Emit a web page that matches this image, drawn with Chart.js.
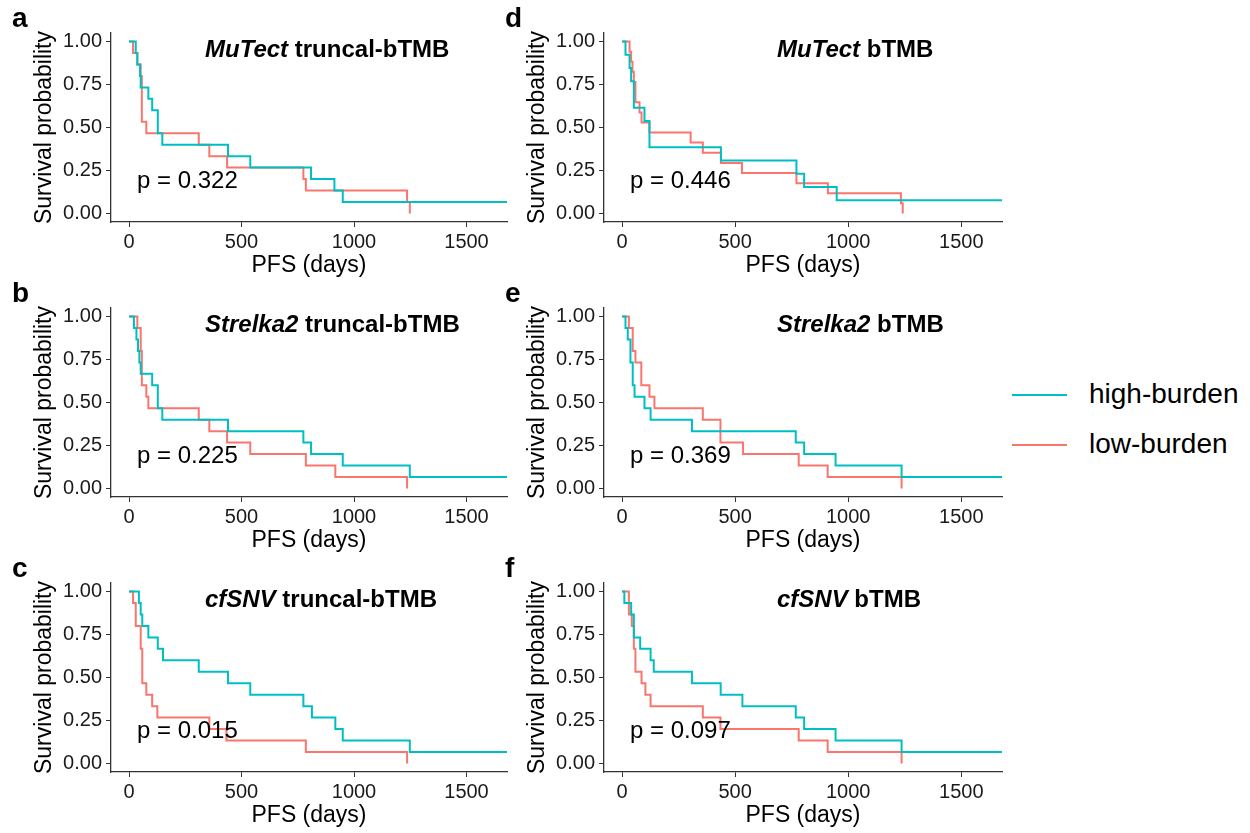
<!DOCTYPE html>
<html>
<head>
<meta charset="utf-8">
<script src="https://cdn.jsdelivr.net/npm/chart.js@4"></script>
<style>
    body { margin: 0; background: #fff; width: 1250px; height: 833px; position: relative; overflow: hidden; font-family: "Liberation Sans", Arial, sans-serif; color: #000; }
    canvas { position: absolute; }
    .letra { position: absolute; font-weight: bold; font-size: 28px; line-height: 1; transform: translateY(-50%); }
    .titulo { position: absolute; font-weight: bold; font-size: 24px; line-height: 1; transform: translateY(-50%); white-space: nowrap; }
    .pvalor { position: absolute; font-size: 24px; line-height: 1; transform: translateY(-50%); white-space: nowrap; }
    .leg-item { position: absolute; left: 1012px; font-size: 28px; line-height: 1; }
    .leg-linha { position: absolute; left: 0; width: 55px; height: 2px; }
    .leg-texto { position: absolute; left: 77px; transform: translateY(-50%); white-space: nowrap; }
</style>
</head>
<body>

<canvas id="painel-a" width="491" height="263"></canvas>
<canvas id="painel-b" width="491" height="263"></canvas>
<canvas id="painel-c" width="491" height="263"></canvas>
<canvas id="painel-d" width="493" height="263"></canvas>
<canvas id="painel-e" width="493" height="263"></canvas>
<canvas id="painel-f" width="493" height="263"></canvas>

<div class="leg-item" style="top:394px"><div class="leg-linha" style="background:#00BFC4"></div><div class="leg-texto">high-burden</div></div>
<div class="leg-item" style="top:444px"><div class="leg-linha" style="background:#F8766D"></div><div class="leg-texto">low-burden</div></div>

<script>
const aHighDays = [0, 30, 37, 49, 52, 86, 103, 128, 148, 440, 539, 809, 913, 950, 1680];
const aHighSurv = [1, 0.933, 0.867, 0.8, 0.733, 0.667, 0.6, 0.467, 0.4, 0.333, 0.267, 0.2, 0.133, 0.067, 0.067];
const aLowDays = [0, 18, 37, 52, 57, 77, 310, 357, 436, 775, 786, 1236, 1248];
const aLowSurv = [1, 0.933, 0.867, 0.8, 0.533, 0.467, 0.4, 0.333, 0.267, 0.2, 0.133, 0.067, 0];

const bHighDays = [0, 22, 33, 40, 46, 52, 103, 128, 148, 440, 775, 809, 950, 1248, 1680];
const bHighSurv = [1, 0.933, 0.867, 0.8, 0.733, 0.667, 0.6, 0.467, 0.4, 0.333, 0.267, 0.2, 0.133, 0.067, 0.067];
const bLowDays = [0, 37, 52, 57, 77, 86, 310, 357, 436, 539, 786, 917, 1236];
const bLowSurv = [1, 0.933, 0.8, 0.6, 0.533, 0.467, 0.4, 0.333, 0.267, 0.2, 0.133, 0.067, 0];

const cHighDays = [0, 44, 52, 59, 86, 128, 151, 310, 440, 539, 775, 813, 917, 950, 1248, 1680];
const cHighSurv = [1, 0.933, 0.867, 0.8, 0.733, 0.667, 0.6, 0.533, 0.467, 0.4, 0.333, 0.267, 0.2, 0.133, 0.067, 0.067];
const cLowDays = [0, 18, 30, 52, 59, 77, 103, 126, 357, 433, 786, 1236];
const cLowSurv = [1, 0.933, 0.8, 0.667, 0.467, 0.4, 0.333, 0.267, 0.2, 0.133, 0.067, 0];

const dHighDays = [0, 15, 33, 40, 52, 99, 121, 437, 771, 805, 949, 1680];
const dHighSurv = [1, 0.923, 0.846, 0.769, 0.615, 0.538, 0.385, 0.308, 0.231, 0.154, 0.077, 0.077];
const dLowDays = [0, 33, 40, 46, 52, 59, 77, 86, 121, 303, 357, 437, 530, 771, 910, 1233, 1241];
const dLowSurv = [1, 0.941, 0.882, 0.824, 0.765, 0.647, 0.588, 0.529, 0.471, 0.412, 0.353, 0.294, 0.235, 0.176, 0.118, 0.059, 0];

const eHighDays = [0, 15, 25, 37, 47, 55, 99, 126, 309, 768, 805, 944, 1236, 1680];
const eHighSurv = [1, 0.933, 0.867, 0.733, 0.6, 0.533, 0.467, 0.4, 0.333, 0.267, 0.2, 0.133, 0.067, 0.067];
const eLowDays = [0, 30, 47, 59, 85, 121, 143, 357, 435, 535, 781, 909, 1236];
const eLowSurv = [1, 0.933, 0.8, 0.733, 0.6, 0.533, 0.467, 0.4, 0.267, 0.2, 0.133, 0.067, 0];

const fHighDays = [0, 10, 40, 52, 80, 126, 140, 309, 436, 532, 768, 805, 944, 1236, 1680];
const fHighSurv = [1, 0.933, 0.867, 0.733, 0.667, 0.6, 0.533, 0.467, 0.4, 0.333, 0.267, 0.2, 0.133, 0.067, 0.067];
const fLowDays = [0, 30, 43, 52, 59, 86, 103, 126, 357, 435, 781, 909, 1236];
const fLowSurv = [1, 0.867, 0.8, 0.667, 0.533, 0.467, 0.4, 0.333, 0.267, 0.2, 0.133, 0.067, 0];

const xTicks = [0, 500, 1000, 1500];
const yTicks = [0, 0.25, 0.5, 0.75, 1];

const paineis = [
    { id: "a", letra: "a", metodo: "MuTect", resto: " truncal-bTMB", p: "p = 0.322", col: 0, lin: 0, high: [aHighDays, aHighSurv], low: [aLowDays, aLowSurv] },
    { id: "b", letra: "b", metodo: "Strelka2", resto: " truncal-bTMB", p: "p = 0.225", col: 0, lin: 1, high: [bHighDays, bHighSurv], low: [bLowDays, bLowSurv] },
    { id: "c", letra: "c", metodo: "cfSNV", resto: " truncal-bTMB", p: "p = 0.015", col: 0, lin: 2, high: [cHighDays, cHighSurv], low: [cLowDays, cLowSurv] },
    { id: "d", letra: "d", metodo: "MuTect", resto: " bTMB", p: "p = 0.446", col: 1, lin: 0, high: [dHighDays, dHighSurv], low: [dLowDays, dLowSurv] },
    { id: "e", letra: "e", metodo: "Strelka2", resto: " bTMB", p: "p = 0.369", col: 1, lin: 1, high: [eHighDays, eHighSurv], low: [eLowDays, eLowSurv] },
    { id: "f", letra: "f", metodo: "cfSNV", resto: " bTMB", p: "p = 0.097", col: 1, lin: 2, high: [fHighDays, fHighSurv], low: [fLowDays, fLowSurv] }
];

const corAlta = "#00BFC4";
const corBaixa = "#F8766D";
const corEixo = "#333333";
const fonte = "'Liberation Sans', Arial, sans-serif";

const topoLinhas = [25, 300, 575];
const esquerdaCanvas = [20, 513];
const eixoY = [111, 604];

function pontos(par) {
    return par[0].map((d, i) => ({ x: d, y: par[1][i] }));
}

function addTexto(classe, x, y, html) {
    const div = document.createElement("div");
    div.className = classe;
    div.style.left = x + "px";
    div.style.top = y + "px";
    div.innerHTML = html;
    document.body.appendChild(div);
}

paineis.forEach(p => {
    const canvas = document.getElementById("painel-" + p.id);
    const topo = topoLinhas[p.lin];
    canvas.style.left = esquerdaCanvas[p.col] + "px";
    canvas.style.top = (topo - 8) + "px";

    new Chart(canvas, {
        type: "line",
        data: {
            datasets: [
                { label: "high-burden", data: pontos(p.high), borderColor: corAlta, borderWidth: 2, stepped: true, pointRadius: 0 },
                { label: "low-burden", data: pontos(p.low), borderColor: corBaixa, borderWidth: 2, stepped: true, pointRadius: 0 }
            ]
        },
        options: {
            responsive: false,
            animation: false,
            layout: { padding: { top: 8, right: 4, left: 0, bottom: 0 } },
            plugins: { legend: { display: false }, tooltip: { enabled: false } },
            scales: {
                x: {
                    type: "linear",
                    min: -80,
                    max: 1680,
                    afterBuildTicks: s => { s.ticks = xTicks.map(v => ({ value: v })); },
                    afterFit: s => { s.height = 58; },
                    ticks: { font: { family: fonte, size: 20 }, color: "#1a1a1a", padding: 3, maxRotation: 0, callback: v => String(v) },
                    grid: { display: true, drawOnChartArea: false, drawTicks: true, tickLength: 5, color: corEixo },
                    border: { display: true, color: corEixo, width: 1.3 },
                    title: { display: true, text: "PFS (days)", font: { family: fonte, size: 23 }, color: "#000", padding: { top: 0, bottom: 1 } }
                },
                y: {
                    min: -0.05,
                    max: 1.05,
                    afterBuildTicks: s => { s.ticks = yTicks.map(v => ({ value: v })); },
                    afterFit: s => { s.width = 91; },
                    ticks: { font: { family: fonte, size: 20 }, color: "#1a1a1a", padding: 4, callback: v => v.toFixed(2) },
                    grid: { display: true, drawOnChartArea: false, drawTicks: true, tickLength: 5, color: corEixo },
                    border: { display: true, color: corEixo, width: 1.3 },
                    title: { display: true, text: "Survival probability", font: { family: fonte, size: 23 }, color: "#000", padding: { top: 11, bottom: 0 } }
                }
            }
        }
    });

    const x0 = eixoY[p.col];
    addTexto("letra", x0 - 99, topo - 7, p.letra);
    addTexto("titulo", x0 + (p.col === 0 ? 94 : 173), topo + 24, "<i>" + p.metodo + "</i>" + p.resto);
    addTexto("pvalor", x0 + 26, topo + 155, p.p);
});
</script>
</body>
</html>
